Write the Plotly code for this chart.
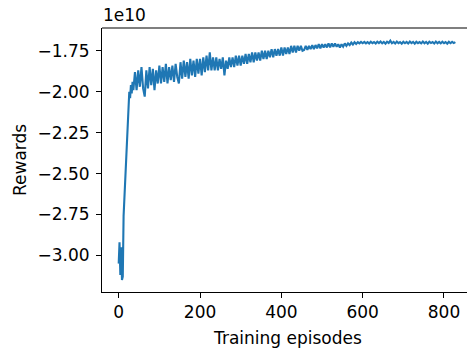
import plotly.graph_objects as go

# Episodes: dense sampling at the start, then every 4 episodes
episodes = list(range(0, 40, 2)) + list(range(40, 832, 4))

# Rewards in units of 1e10
rewards_early = [-3.05, -2.92, -3.12, -2.95, -3.15, -3.13, -2.76, -2.66, -2.50, -2.42,
                 -2.34, -2.20, -2.17, -2.00, -2.04, -1.96, -2.01, -1.94, -1.99, -1.91]
rewards_mid1 = [-1.88, -1.99, -1.87, -1.97, -1.85, -1.98, -2.03, -1.87, -1.98, -1.85,
                -1.96, -1.86, -1.99, -1.87, -1.95, -1.84, -1.95, -1.85, -1.94, -1.83,
                -1.95, -1.85, -1.93, -1.84, -1.94, -1.83, -1.91, -1.95, -1.82, -1.92,
                -1.81, -1.91, -1.82, -1.92, -1.80, -1.90, -1.81, -1.91, -1.80, -1.89,
                -1.80, -1.90, -1.79, -1.88, -1.78, -1.87, -1.76, -1.87, -1.79, -1.87,
                -1.79, -1.87, -1.80, -1.86, -1.79, -1.90, -1.81]
rewards_mid2 = [-1.86, -1.79, -1.85, -1.79, -1.85, -1.78, -1.84, -1.78, -1.84, -1.78,
                -1.83, -1.77, -1.83, -1.77, -1.82, -1.76, -1.82, -1.76, -1.81, -1.76,
                -1.81, -1.75, -1.80, -1.75, -1.80, -1.75, -1.79, -1.74, -1.79, -1.74,
                -1.78, -1.74, -1.78, -1.73, -1.78, -1.73, -1.77, -1.73, -1.77, -1.72,
                -1.76, -1.72, -1.76, -1.72, -1.75, -1.72, -1.75]
rewards_late = [-1.745, -1.72, -1.745, -1.72, -1.74, -1.715, -1.74, -1.715, -1.735, -1.71,
                -1.735, -1.71, -1.73, -1.71, -1.73, -1.705, -1.73, -1.705, -1.725, -1.705,
                -1.725, -1.71, -1.73, -1.71, -1.725, -1.705, -1.72, -1.705, -1.715, -1.70,
                -1.712, -1.698, -1.708, -1.697, -1.705, -1.696, -1.704]
rewards_plateau = [-1.696, -1.705, -1.697, -1.706, -1.695, -1.704, -1.697, -1.706, -1.695, -1.703,
                   -1.694, -1.705, -1.696, -1.707, -1.695, -1.703, -1.688, -1.704, -1.696, -1.706,
                   -1.694, -1.704, -1.697, -1.707, -1.695, -1.704, -1.696, -1.706, -1.694, -1.703,
                   -1.696, -1.707, -1.695, -1.704, -1.697, -1.705, -1.694, -1.704, -1.696, -1.707,
                   -1.695, -1.703, -1.697, -1.706, -1.694, -1.704, -1.696, -1.705, -1.695, -1.704,
                   -1.697, -1.707, -1.695, -1.704, -1.696, -1.703, -1.697]
rewards = rewards_early + rewards_mid1 + rewards_mid2 + rewards_late + rewards_plateau
n = min(len(episodes), len(rewards))
episodes = episodes[:n]
rewards = rewards[:n]

y_ticks = [-3.00, -2.75, -2.50, -2.25, -2.00, -1.75]
x_ticks = [0, 200, 400, 600, 800]

FONT = "DejaVu Sans"
FS = 17

fig = go.Figure()
fig.add_trace(go.Scatter(x=episodes, y=rewards, mode="lines",
                         line=dict(color="#1f77b4", width=2.1), showlegend=False))

fig.update_layout(
    width=467, height=352,
    margin=dict(l=102, r=0, t=28, b=60),
    paper_bgcolor="white", plot_bgcolor="white",
    font=dict(family=FONT, size=FS, color="black"),
    xaxis=dict(range=[-41.1, 856.6], tickvals=x_ticks, ticks="outside", ticklen=5,
               tickwidth=1.1, tickcolor="black", showline=True, linecolor="black",
               linewidth=1.1, showgrid=False, zeroline=False),
    yaxis=dict(range=[-3.2235, -1.611], tickvals=y_ticks, tickformat=".2f",
               ticks="outside", ticklen=5, tickwidth=1.1, tickcolor="black",
               showline=True, linecolor="black", linewidth=1.1, showgrid=False,
               zeroline=False, ticklabelstandoff=3),
    shapes=[dict(type="line", xref="paper", yref="paper", x0=0, x1=1, y0=1, y1=1,
                 line=dict(color="black", width=1.1))],
    annotations=[
        dict(text="1e10", xref="paper", yref="paper", x=0, y=1, xanchor="left",
             yanchor="bottom", showarrow=False, yshift=1, xshift=-1),
        dict(text="Training episodes", xref="paper", yref="paper", x=(287.5 - 102) / 365,
             y=0, xanchor="center", yanchor="top", showarrow=False, yshift=-34),
        dict(text="Rewards", xref="paper", yref="paper", x=0, y=0.5, xanchor="center",
             yanchor="middle", textangle=-90, showarrow=False, xshift=-82),
    ],
)

fig.write_html("out.html", config={"displayModeBar": False})
